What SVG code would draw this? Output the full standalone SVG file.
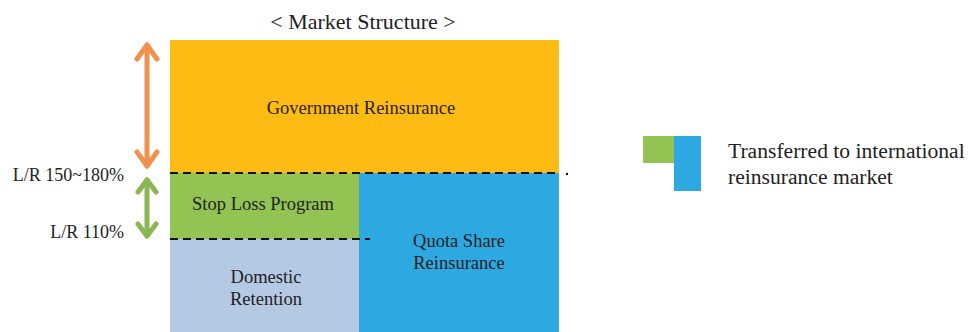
<svg xmlns="http://www.w3.org/2000/svg" width="968" height="332" viewBox="0 0 968 332">
<style>
.t{font-size:18.5px;text-anchor:middle}
.l{font-size:18px;text-anchor:end}
.g{font-size:21.6px}
.dash{stroke:#111;stroke-width:2;stroke-dasharray:8,5;fill:none}
.arr{fill:none;stroke-width:5;stroke-linecap:round;stroke-linejoin:round}
</style>
<rect width="968" height="332" fill="#fff"/>
<text x="363" y="29" font-size="22" text-anchor="middle" font-family="Liberation Serif" fill="#222">&lt; Market Structure &gt;</text>
<g id="government"><rect x="170" y="40" width="389" height="133" fill="#FDBB13"/><text class="t" x="361" y="114" font-family="Liberation Serif" fill="#2a2210">Government Reinsurance</text></g>
<g id="stoploss"><rect x="170" y="173" width="189" height="66" fill="#92C353"/><text class="t" x="263" y="210" font-family="Liberation Serif" fill="#222">Stop Loss Program</text></g>
<g id="domestic"><rect x="170" y="239" width="189" height="93" fill="#B5C9E5"/><text class="t" x="266" y="283" font-family="Liberation Serif" fill="#222">Domestic</text><text class="t" x="266" y="305" font-family="Liberation Serif" fill="#222">Retention</text></g>
<g id="quota"><rect x="359" y="173" width="200" height="159" fill="#2EA8E1"/><text class="t" x="459" y="247" font-family="Liberation Serif" fill="#222">Quota Share</text><text class="t" x="459" y="269" font-family="Liberation Serif" fill="#222">Reinsurance</text></g>
<g id="connectors">
<line class="dash" x1="170" y1="173" x2="558" y2="173"/>
<circle cx="567" cy="174" r="1.2" fill="#111"/>
<line class="dash" x1="170" y1="239" x2="370" y2="239"/>
<g stroke="#F0914F" class="arr"><line x1="147" y1="45" x2="147" y2="166"/><polyline points="137,59 147,45 157,59"/><polyline points="137,152 147,166 157,152"/></g>
<g stroke="#8BB653" class="arr"><line x1="147" y1="180" x2="147" y2="236"/><polyline points="138,192 147,180 156,192"/><polyline points="138,224 147,236 156,224"/></g>
</g>
<text class="l" x="124" y="181" font-family="Liberation Serif" fill="#222">L/R 150~180%</text>
<text class="l" x="124" y="238" font-family="Liberation Serif" fill="#222">L/R 110%</text>
<g id="legend"><rect x="643" y="136" width="31" height="27" fill="#92C353"/><rect x="674" y="136" width="27" height="55" fill="#2EA8E1"/><text class="g" x="728" y="158" font-family="Liberation Serif" fill="#222">Transferred to international</text><text class="g" x="728" y="184" font-family="Liberation Serif" fill="#222">reinsurance market</text></g>
</svg>
